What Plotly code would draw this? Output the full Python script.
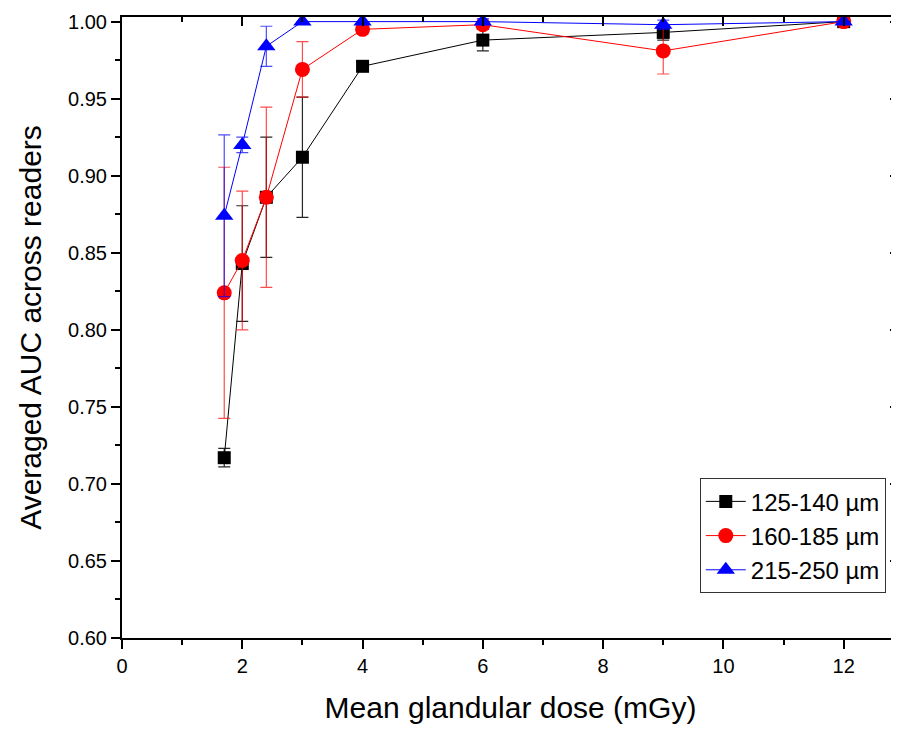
import plotly.graph_objects as go

dose = [1.7, 2.0, 2.4, 3.0, 4.0, 6.0, 9.0, 12.0]

auc_125 = [0.717, 0.843, 0.886, 0.912, 0.971, 0.988, 0.993, 1.000]
err_125 = [0.006, 0.0375, 0.039, 0.039, 0.003, 0.007, 0.005, 0.0]

auc_160 = [0.824, 0.845, 0.886, 0.969, 0.995, 0.998, 0.981, 1.000]
err_160 = [0.0815, 0.045, 0.0585, 0.018, 0.003, 0.003, 0.015, 0.0]

auc_215 = [0.874, 0.920, 0.984, 1.000, 1.000, 1.000, 0.998, 1.000]
err_215 = [0.0525, 0.005, 0.013, 0.0, 0.0, 0.002, 0.003, 0.0]

series = [
    ("125-140 µm", auc_125, err_125, "black", "rgba(0,0,0,0.85)", "square", 13),
    ("160-185 µm", auc_160, err_160, "red", "rgba(255,0,0,0.7)", "circle", 15),
    ("215-250 µm", auc_215, err_215, "blue", "rgba(0,0,255,0.7)", "triangle-up", 16),
]

fig = go.Figure()
for name, y, e, col, ecol, sym, sz in series:
    fig.add_trace(go.Scatter(
        x=dose, y=y, name=name, mode="lines+markers",
        line=dict(color=col, width=1),
        marker=dict(color=col, symbol=sym, size=sz, line=dict(width=0)),
        error_y=dict(type="data", array=e, color=ecol, thickness=1.2, width=6),
    ))

# dummy trace so the mirrored (top/right) axes get drawn
fig.add_trace(go.Scatter(x=[None], y=[None], xaxis="x2", yaxis="y2",
                         showlegend=False, hoverinfo="skip"))

xr = [0, 12.92]
yr = [0.6, 1.003]
font = "Liberation Sans, Arial, sans-serif"

# page body has an 8px margin, so the figure is sized a bit smaller
fig.update_layout(
    width=891, height=716,
    margin=dict(l=114, r=0, t=9, b=86),
    paper_bgcolor="white", plot_bgcolor="white",
    font=dict(family=font, color="black"),
    showlegend=True,
    legend=dict(x=0.983, y=0.072, xanchor="right", yanchor="bottom",
                bordercolor="#333", borderwidth=1, bgcolor="white",
                font=dict(size=24), tracegroupgap=0, itemwidth=40),
    xaxis=dict(range=xr, showgrid=False, zeroline=False, automargin=False,
               showline=True, linecolor="black", linewidth=2,
               ticks="outside", ticklen=9, tickwidth=2, tickcolor="black",
               dtick=2, tick0=0, tickfont=dict(size=20),
               minor=dict(dtick=1, ticks="outside", ticklen=5, tickwidth=2, tickcolor="black"),
               title=dict(text="Mean glandular dose (mGy)", font=dict(size=30), standoff=26)),
    yaxis=dict(range=yr, showgrid=False, zeroline=False, automargin=False,
               showline=True, linecolor="black", linewidth=2,
               ticks="outside", ticklen=9, tickwidth=2, tickcolor="black",
               dtick=0.05, tick0=0.6, tickformat=".2f", tickfont=dict(size=20),
               minor=dict(dtick=0.025, ticks="outside", ticklen=5, tickwidth=2, tickcolor="black"),
               title=dict(text="Averaged AUC across readers", font=dict(size=30), standoff=18)),
    xaxis2=dict(range=xr, overlaying="x", side="top", anchor="y2", automargin=False,
                showgrid=False, zeroline=False, showline=True, linecolor="black", linewidth=2,
                ticks="inside", ticklen=9, tickwidth=2, tickcolor="black",
                dtick=2, tick0=0, showticklabels=False,
                minor=dict(dtick=1, ticks="inside", ticklen=5, tickwidth=2, tickcolor="black")),
    yaxis2=dict(range=yr, overlaying="y", side="right", anchor="x2", automargin=False,
                showgrid=False, zeroline=False, showline=False,
                ticks="inside", ticklen=9, tickwidth=2, tickcolor="black",
                dtick=0.05, tick0=0.6, showticklabels=False,
                minor=dict(dtick=0.025, ticks="inside", ticklen=5, tickwidth=2, tickcolor="black")),
)

fig.write_html("out.html")
